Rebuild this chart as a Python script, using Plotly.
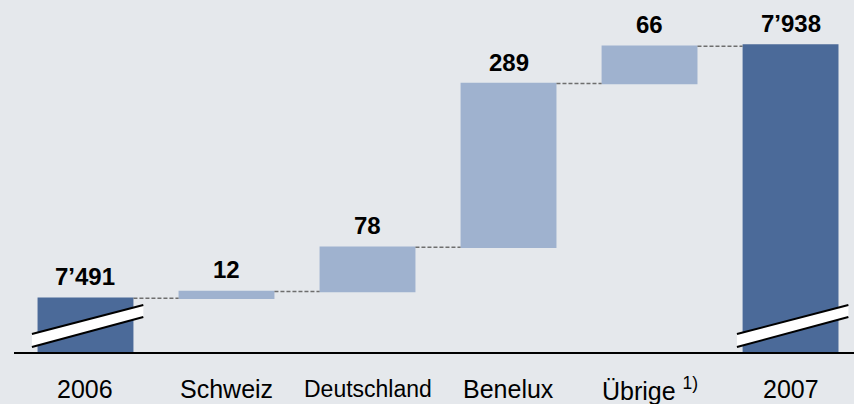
import plotly.graph_objects as go

categories = ["2006", "Schweiz", "Deutschland", "Benelux", "Übrige", "2007"]
tick_labels = ["2006", "Schweiz", "Deutschland", "Benelux", "Übrige <sup>1)</sup>", "2007"]
values = [7491, 12, 78, 289, 66, 7938]
measures = ["absolute", "relative", "relative", "relative", "relative", "absolute"]

DARK = "#4b6a99"
LIGHT = "#9fb2cf"
BG = "#e5e8ec"
FONT = "Liberation Sans, Arial, sans-serif"

x_idx = list(range(len(categories)))

# running level for label placement
levels = []
run = 0
for v, m in zip(values, measures):
    run = v if m == "absolute" else run + v
    levels.append(run)

fig = go.Figure()
fig.add_trace(go.Waterfall(
    x=x_idx, y=values, measure=measures,
    increasing=dict(marker=dict(color=LIGHT, line=dict(width=0))),
    totals=dict(marker=dict(color=DARK, line=dict(width=0))),
    decreasing=dict(marker=dict(color=LIGHT, line=dict(width=0))),
    connector=dict(mode="between", line=dict(color="#6e6e6e", width=1.5, dash="4px,2px")),
    textinfo="none", hoverinfo="skip", width=0.68,
))

ann = []
for i, (v, lv) in enumerate(zip(values, levels)):
    txt = f"{v:,}".replace(",", "’")
    ann.append(dict(x=i, y=lv, xref="x", yref="y", text=f"<b>{txt}</b>", showarrow=False,
                    yanchor="bottom", yshift=6, font=dict(family=FONT, size=24, color="black")))
for i, lab in enumerate(tick_labels):
    size = 23 if lab == "Deutschland" else 25
    ann.append(dict(x=i, y=0, xref="x", yref="paper", text=lab, showarrow=False,
                    yanchor="middle", yshift=-37, font=dict(family=FONT, size=size, color="black")))

# axis-break symbols on the two total bars
shapes = []
for i in (0, 5):
    xl, xr = i - 0.38, i + 0.41
    ul, ur, ll, lr = 0.0511, 0.1335, 0.0142, 0.0994
    shapes.append(dict(type="path", xref="x", yref="paper",
                       path=f"M {xl},{ul} L {xr},{ur} L {xr},{lr} L {xl},{ll} Z",
                       fillcolor="white", line=dict(width=0), layer="above"))
    shapes.append(dict(type="line", xref="x", yref="paper", x0=xl, y0=ul, x1=xr, y1=ur,
                       line=dict(color="black", width=2), layer="above"))
    shapes.append(dict(type="line", xref="x", yref="paper", x0=xl, y0=ll, x1=xr, y1=lr,
                       line=dict(color="black", width=2), layer="above"))

fig.update_layout(
    width=854, height=404,
    margin=dict(l=14, r=0, t=0, b=52),
    paper_bgcolor=BG, plot_bgcolor=BG,
    showlegend=False,
    xaxis=dict(range=[-0.507, 5.45], showticklabels=False, showgrid=False, zeroline=False,
               showline=True, linecolor="black", linewidth=1.5, ticks=""),
    yaxis=dict(range=[7396, 8017.5], visible=False, showgrid=False, zeroline=False),
    annotations=ann, shapes=shapes,
)

fig.write_html("out.html", config={"displayModeBar": False},
               post_script="document.body.style.margin='0';document.body.style.overflow='hidden';")
